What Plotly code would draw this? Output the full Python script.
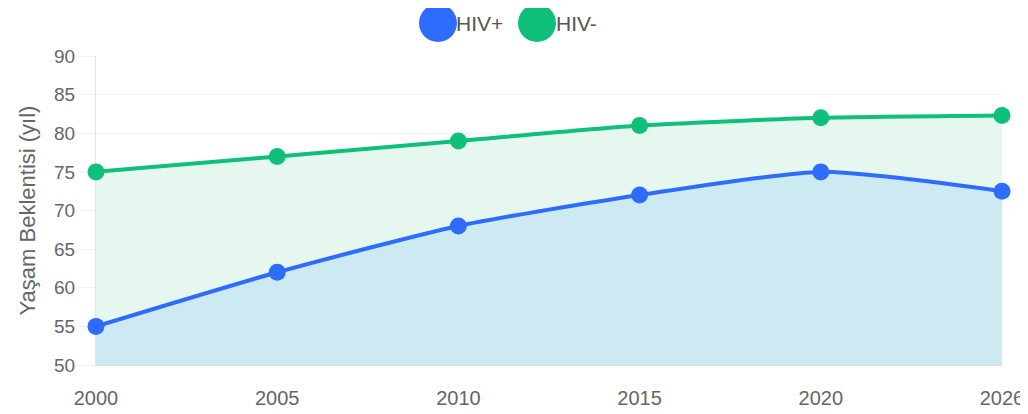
import plotly.graph_objects as go

# data
years = ["2000", "2005", "2010", "2015", "2020", "2026"]
hiv_pos = [55, 62, 68, 72, 75, 72.5]
hiv_neg = [75, 77, 79, 81, 82, 82.3]

blue = "#2d6cff"
green = "#0fbf7a"

# the page body keeps its default 8px margin, so the figure is 8px smaller
OFF = 8
W, H = 1028 - OFF, 414 - OFF
ml, mr, mt, mb = 96 - OFF, 26, 56 - OFF, 49
pw = W - ml - mr
ph = H - mt - mb


def px_to_paper(x, y):
    # window pixel -> paper coordinates
    return (x - OFF - ml) / pw, (H - mb - (y - OFF)) / ph


fig = go.Figure()

fig.add_trace(go.Scatter(
    x=years, y=hiv_neg, name="HIV-",
    mode="lines+markers",
    line=dict(color=green, width=4, shape="spline", smoothing=0.6),
    marker=dict(color=green, size=17),
    fill="tozeroy", fillcolor="#e6f7f0",
    cliponaxis=False,
))
fig.add_trace(go.Scatter(
    x=years, y=hiv_pos, name="HIV+",
    mode="lines+markers",
    line=dict(color=blue, width=4, shape="spline", smoothing=0.6),
    marker=dict(color=blue, size=17),
    fill="tozeroy", fillcolor="#cdeaf3",
    cliponaxis=False,
))

# custom legend (big circles like the original)
legend_items = [("HIV+", blue, 438, 454), ("HIV-", green, 537, 554)]
for label, col, cx, tx in legend_items:
    ax, ay = px_to_paper(cx, 23)
    fig.add_shape(type="circle", xref="paper", yref="paper",
                  xsizemode="pixel", ysizemode="pixel",
                  xanchor=ax, yanchor=ay,
                  x0=-19, x1=19, y0=-19, y1=19,
                  fillcolor=col, line=dict(width=0))
    lx, ly = px_to_paper(tx, 24)
    fig.add_annotation(text=label, xref="paper", yref="paper",
                       x=lx, y=ly, xanchor="left", yanchor="middle",
                       showarrow=False,
                       font=dict(size=21, color="#555555"))

fig.update_layout(
    width=W, height=H,
    margin=dict(l=ml, r=mr, t=mt, b=mb),
    paper_bgcolor="white", plot_bgcolor="white",
    showlegend=False,
    font=dict(family="Liberation Sans, Arial, sans-serif", color="#666666"),
)
fig.update_xaxes(
    type="category", range=[0, 5], automargin=False,
    showgrid=False, zeroline=False, layer="below traces",
    showline=True, linecolor="#dddddd", linewidth=1,
    ticks="", ticklabelstandoff=15,
    tickfont=dict(size=20, color="#666666"),
)
fig.update_yaxes(
    range=[50, 90], dtick=5, automargin=False,
    showgrid=True, gridcolor="#f2f2f2", gridwidth=1,
    zeroline=False, layer="below traces",
    showline=True, linecolor="#e6e6e6", linewidth=1,
    ticks="outside", ticklen=16, tickcolor="#f2f2f2",
    tickfont=dict(size=19, color="#666666"),
    title=dict(text="Yaşam Beklentisi (yıl)", standoff=12,
               font=dict(size=22, color="#666666")),
)

fig.write_html("out.html")
